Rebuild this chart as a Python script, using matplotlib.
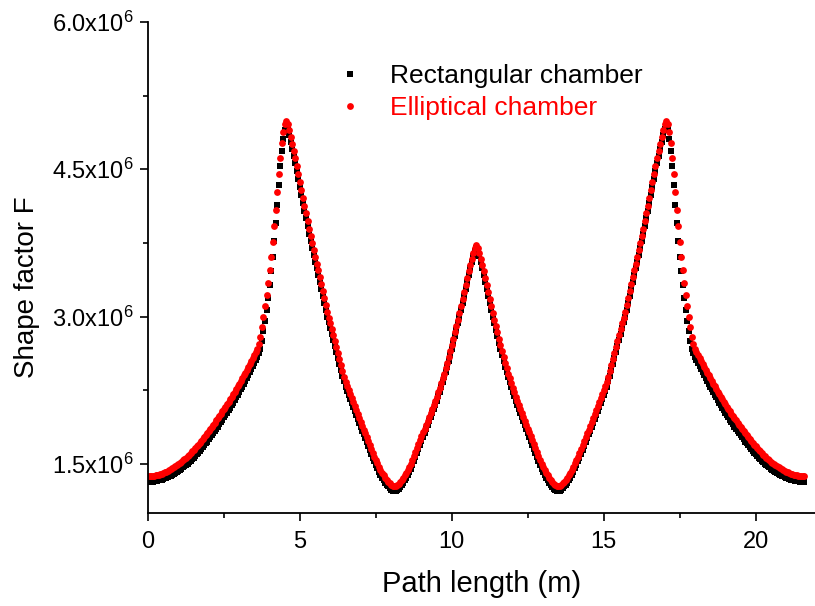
import matplotlib
matplotlib.use('Agg')
import numpy as np
import matplotlib.pyplot as plt
from matplotlib.ticker import MultipleLocator, FuncFormatter

plt.rcParams['font.family'] = ['Liberation Sans', 'DejaVu Sans']
plt.rcParams['mathtext.default'] = 'regular'

# path length along the chamber (m)
path_length = [
    0.00, 0.05, 0.10, 0.15, 0.20, 0.25, 0.30, 0.35, 0.40, 0.45,
    0.50, 0.55, 0.60, 0.65, 0.70, 0.75, 0.80, 0.85, 0.90, 0.95,
    1.00, 1.05, 1.10, 1.15, 1.20, 1.25, 1.30, 1.35, 1.40, 1.45,
    1.50, 1.55, 1.60, 1.65, 1.70, 1.75, 1.80, 1.85, 1.90, 1.95,
    2.00, 2.05, 2.10, 2.15, 2.20, 2.25, 2.30, 2.35, 2.40, 2.45,
    2.50, 2.55, 2.60, 2.65, 2.70, 2.75, 2.80, 2.85, 2.90, 2.95,
    3.00, 3.05, 3.10, 3.15, 3.20, 3.25, 3.30, 3.35, 3.40, 3.45,
    3.50, 3.55, 3.60, 3.65, 3.70, 3.75, 3.80, 3.85, 3.90, 3.95,
    4.00, 4.05, 4.10, 4.15, 4.20, 4.25, 4.30, 4.35, 4.40, 4.45,
    4.50, 4.55, 4.60, 4.65, 4.70, 4.75, 4.80, 4.85, 4.90, 4.95,
    5.00, 5.05, 5.10, 5.15, 5.20, 5.25, 5.30, 5.35, 5.40, 5.45,
    5.50, 5.55, 5.60, 5.65, 5.70, 5.75, 5.80, 5.85, 5.90, 5.95,
    6.00, 6.05, 6.10, 6.15, 6.20, 6.25, 6.30, 6.35, 6.40, 6.45,
    6.50, 6.55, 6.60, 6.65, 6.70, 6.75, 6.80, 6.85, 6.90, 6.95,
    7.00, 7.05, 7.10, 7.15, 7.20, 7.25, 7.30, 7.35, 7.40, 7.45,
    7.50, 7.55, 7.60, 7.65, 7.70, 7.75, 7.80, 7.85, 7.90, 7.95,
    8.00, 8.05, 8.10, 8.15, 8.20, 8.25, 8.30, 8.35, 8.40, 8.45,
    8.50, 8.55, 8.60, 8.65, 8.70, 8.75, 8.80, 8.85, 8.90, 8.95,
    9.00, 9.05, 9.10, 9.15, 9.20, 9.25, 9.30, 9.35, 9.40, 9.45,
    9.50, 9.55, 9.60, 9.65, 9.70, 9.75, 9.80, 9.85, 9.90, 9.95,
    10.00, 10.05, 10.10, 10.15, 10.20, 10.25, 10.30, 10.35, 10.40, 10.45,
    10.50, 10.55, 10.60, 10.65, 10.70, 10.75, 10.80, 10.85, 10.90, 10.95,
    11.00, 11.05, 11.10, 11.15, 11.20, 11.25, 11.30, 11.35, 11.40, 11.45,
    11.50, 11.55, 11.60, 11.65, 11.70, 11.75, 11.80, 11.85, 11.90, 11.95,
    12.00, 12.05, 12.10, 12.15, 12.20, 12.25, 12.30, 12.35, 12.40, 12.45,
    12.50, 12.55, 12.60, 12.65, 12.70, 12.75, 12.80, 12.85, 12.90, 12.95,
    13.00, 13.05, 13.10, 13.15, 13.20, 13.25, 13.30, 13.35, 13.40, 13.45,
    13.50, 13.55, 13.60, 13.65, 13.70, 13.75, 13.80, 13.85, 13.90, 13.95,
    14.00, 14.05, 14.10, 14.15, 14.20, 14.25, 14.30, 14.35, 14.40, 14.45,
    14.50, 14.55, 14.60, 14.65, 14.70, 14.75, 14.80, 14.85, 14.90, 14.95,
    15.00, 15.05, 15.10, 15.15, 15.20, 15.25, 15.30, 15.35, 15.40, 15.45,
    15.50, 15.55, 15.60, 15.65, 15.70, 15.75, 15.80, 15.85, 15.90, 15.95,
    16.00, 16.05, 16.10, 16.15, 16.20, 16.25, 16.30, 16.35, 16.40, 16.45,
    16.50, 16.55, 16.60, 16.65, 16.70, 16.75, 16.80, 16.85, 16.90, 16.95,
    17.00, 17.05, 17.10, 17.15, 17.20, 17.25, 17.30, 17.35, 17.40, 17.45,
    17.50, 17.55, 17.60, 17.65, 17.70, 17.75, 17.80, 17.85, 17.90, 17.95,
    18.00, 18.05, 18.10, 18.15, 18.20, 18.25, 18.30, 18.35, 18.40, 18.45,
    18.50, 18.55, 18.60, 18.65, 18.70, 18.75, 18.80, 18.85, 18.90, 18.95,
    19.00, 19.05, 19.10, 19.15, 19.20, 19.25, 19.30, 19.35, 19.40, 19.45,
    19.50, 19.55, 19.60, 19.65, 19.70, 19.75, 19.80, 19.85, 19.90, 19.95,
    20.00, 20.05, 20.10, 20.15, 20.20, 20.25, 20.30, 20.35, 20.40, 20.45,
    20.50, 20.55, 20.60, 20.65, 20.70, 20.75, 20.80, 20.85, 20.90, 20.95,
    21.00, 21.05, 21.10, 21.15, 21.20, 21.25, 21.30, 21.35, 21.40, 21.45,
    21.50, 21.55, 21.60,
]

# shape factor F, in units of 10^6
ellip_F = [
    1.376, 1.376, 1.377, 1.379, 1.381, 1.384, 1.387, 1.391, 1.396, 1.401,
    1.407, 1.413, 1.420, 1.428, 1.436, 1.445, 1.455, 1.465, 1.476, 1.487,
    1.499, 1.511, 1.524, 1.537, 1.551, 1.565, 1.580, 1.595, 1.611, 1.627,
    1.644, 1.661, 1.679, 1.697, 1.715, 1.734, 1.753, 1.773, 1.793, 1.813,
    1.834, 1.855, 1.876, 1.898, 1.920, 1.942, 1.965, 1.988, 2.011, 2.035,
    2.059, 2.083, 2.108, 2.133, 2.158, 2.184, 2.210, 2.236, 2.263, 2.290,
    2.317, 2.345, 2.373, 2.401, 2.430, 2.459, 2.488, 2.518, 2.548, 2.579,
    2.610, 2.642, 2.675, 2.720, 2.790, 2.890, 3.000, 3.110, 3.220, 3.340,
    3.470, 3.610, 3.760, 3.920, 4.090, 4.270, 4.450, 4.620, 4.770, 4.880,
    4.960, 4.990, 4.960, 4.900, 4.830, 4.760, 4.690, 4.610, 4.530, 4.450,
    4.370, 4.290, 4.210, 4.130, 4.050, 3.970, 3.890, 3.820, 3.750, 3.680,
    3.610, 3.540, 3.470, 3.400, 3.330, 3.260, 3.190, 3.120, 3.050, 2.990,
    2.930, 2.870, 2.810, 2.750, 2.690, 2.630, 2.570, 2.510, 2.450, 2.390,
    2.335, 2.290, 2.250, 2.210, 2.170, 2.130, 2.090, 2.050, 2.010, 1.970,
    1.930, 1.890, 1.850, 1.810, 1.770, 1.730, 1.690, 1.650, 1.610, 1.575,
    1.540, 1.505, 1.470, 1.440, 1.410, 1.385, 1.360, 1.340, 1.320, 1.302,
    1.288, 1.278, 1.274, 1.277, 1.285, 1.298, 1.315, 1.335, 1.358, 1.383,
    1.410, 1.440, 1.470, 1.500, 1.540, 1.580, 1.620, 1.660, 1.700, 1.740,
    1.780, 1.820, 1.860, 1.900, 1.940, 1.980, 2.020, 2.060, 2.100, 2.140,
    2.185, 2.230, 2.275, 2.320, 2.370, 2.420, 2.475, 2.530, 2.590, 2.650,
    2.710, 2.770, 2.840, 2.905, 2.970, 3.040, 3.110, 3.180, 3.250, 3.320,
    3.390, 3.460, 3.530, 3.590, 3.650, 3.700,
    3.730,
    3.700, 3.650, 3.590, 3.530, 3.460, 3.390,
    3.320, 3.250, 3.180, 3.110, 3.040, 2.970, 2.905, 2.840, 2.770, 2.710,
    2.650, 2.590, 2.530, 2.475, 2.420, 2.370, 2.320, 2.275, 2.230, 2.185,
    2.140, 2.100, 2.060, 2.020, 1.980, 1.940, 1.900, 1.860, 1.820, 1.780,
    1.740, 1.700, 1.660, 1.620, 1.580, 1.540, 1.500, 1.470, 1.440, 1.410,
    1.383, 1.358, 1.335, 1.315, 1.298, 1.285, 1.277, 1.274, 1.278, 1.288,
    1.302, 1.320, 1.340, 1.360, 1.385, 1.410, 1.440, 1.470, 1.505, 1.540,
    1.575, 1.610, 1.650, 1.690, 1.730, 1.770, 1.810, 1.850, 1.890, 1.930,
    1.970, 2.010, 2.050, 2.090, 2.130, 2.170, 2.210, 2.250, 2.290, 2.335,
    2.390, 2.450, 2.510, 2.570, 2.630, 2.690, 2.750, 2.810, 2.870, 2.930,
    2.990, 3.050, 3.120, 3.190, 3.260, 3.330, 3.400, 3.470, 3.540, 3.610,
    3.680, 3.750, 3.820, 3.890, 3.970, 4.050, 4.130, 4.210, 4.290, 4.370,
    4.450, 4.530, 4.610, 4.690, 4.760, 4.830, 4.900, 4.960, 4.990, 4.960,
    4.880, 4.770, 4.620, 4.450, 4.270, 4.090, 3.920, 3.760, 3.610, 3.470,
    3.340, 3.220, 3.110, 3.000, 2.890, 2.790, 2.720, 2.675, 2.642, 2.610,
    2.579, 2.548, 2.518, 2.488, 2.459, 2.430, 2.401, 2.373, 2.345, 2.317,
    2.290, 2.263, 2.236, 2.210, 2.184, 2.158, 2.133, 2.108, 2.083, 2.059,
    2.035, 2.011, 1.988, 1.965, 1.942, 1.920, 1.898, 1.876, 1.855, 1.834,
    1.813, 1.793, 1.773, 1.753, 1.734, 1.715, 1.697, 1.679, 1.661, 1.644,
    1.627, 1.611, 1.595, 1.580, 1.565, 1.551, 1.537, 1.524, 1.511, 1.499,
    1.487, 1.476, 1.465, 1.455, 1.445, 1.436, 1.428, 1.420, 1.413, 1.407,
    1.401, 1.396, 1.391, 1.387, 1.384, 1.381, 1.379, 1.377, 1.376, 1.376,
]

rect_F = [
    1.316, 1.316, 1.317, 1.319, 1.321, 1.324, 1.327, 1.331, 1.336, 1.341,
    1.347, 1.352, 1.358, 1.365, 1.372, 1.380, 1.389, 1.398, 1.408, 1.418,
    1.429, 1.440, 1.452, 1.464, 1.477, 1.490, 1.504, 1.518, 1.533, 1.548,
    1.564, 1.580, 1.597, 1.614, 1.631, 1.649, 1.668, 1.688, 1.708, 1.728,
    1.749, 1.770, 1.791, 1.813, 1.835, 1.857, 1.880, 1.903, 1.926, 1.950,
    1.974, 1.998, 2.023, 2.048, 2.073, 2.099, 2.125, 2.151, 2.178, 2.205,
    2.232, 2.260, 2.288, 2.316, 2.345, 2.374, 2.403, 2.433, 2.463, 2.494,
    2.525, 2.557, 2.590, 2.625, 2.670, 2.750, 2.850, 2.960, 3.070, 3.190,
    3.320, 3.460, 3.610, 3.770, 3.950, 4.140, 4.340, 4.530, 4.690, 4.810,
    4.900, 4.940, 4.910, 4.850, 4.780, 4.710, 4.640, 4.560, 4.480, 4.400,
    4.320, 4.240, 4.160, 4.080, 4.000, 3.920, 3.840, 3.770, 3.700, 3.630,
    3.560, 3.490, 3.420, 3.350, 3.280, 3.210, 3.140, 3.070, 3.000, 2.940,
    2.880, 2.820, 2.760, 2.700, 2.640, 2.580, 2.520, 2.460, 2.400, 2.340,
    2.285, 2.240, 2.200, 2.160, 2.120, 2.080, 2.040, 2.000, 1.960, 1.920,
    1.880, 1.840, 1.800, 1.760, 1.720, 1.680, 1.640, 1.600, 1.560, 1.525,
    1.490, 1.455, 1.420, 1.390, 1.360, 1.335, 1.310, 1.290, 1.270, 1.252,
    1.238, 1.228, 1.224, 1.227, 1.235, 1.248, 1.265, 1.285, 1.308, 1.333,
    1.360, 1.390, 1.420, 1.450, 1.490, 1.530, 1.570, 1.610, 1.652, 1.693,
    1.734, 1.774, 1.814, 1.854, 1.894, 1.935, 1.975, 2.015, 2.055, 2.095,
    2.140, 2.187, 2.233, 2.279, 2.330, 2.380, 2.435, 2.490, 2.550, 2.610,
    2.670, 2.730, 2.800, 2.865, 2.930, 3.000, 3.070, 3.140, 3.210, 3.280,
    3.350, 3.422, 3.494, 3.556, 3.617, 3.668,
    3.700,
    3.668, 3.617, 3.556, 3.494, 3.422, 3.350,
    3.280, 3.210, 3.140, 3.070, 3.000, 2.930, 2.865, 2.800, 2.730, 2.670,
    2.610, 2.550, 2.490, 2.435, 2.380, 2.330, 2.279, 2.233, 2.187, 2.140,
    2.095, 2.055, 2.015, 1.975, 1.935, 1.894, 1.854, 1.814, 1.774, 1.734,
    1.693, 1.652, 1.610, 1.570, 1.530, 1.490, 1.450, 1.420, 1.390, 1.360,
    1.333, 1.308, 1.285, 1.265, 1.248, 1.235, 1.227, 1.224, 1.228, 1.238,
    1.252, 1.270, 1.290, 1.310, 1.335, 1.360, 1.390, 1.420, 1.455, 1.490,
    1.525, 1.560, 1.600, 1.640, 1.680, 1.720, 1.760, 1.800, 1.840, 1.880,
    1.920, 1.960, 2.000, 2.040, 2.080, 2.120, 2.160, 2.200, 2.240, 2.285,
    2.340, 2.400, 2.460, 2.520, 2.580, 2.640, 2.700, 2.760, 2.820, 2.880,
    2.940, 3.000, 3.070, 3.140, 3.210, 3.280, 3.350, 3.420, 3.490, 3.560,
    3.630, 3.700, 3.770, 3.840, 3.920, 4.000, 4.080, 4.160, 4.240, 4.320,
    4.400, 4.480, 4.560, 4.640, 4.710, 4.780, 4.850, 4.910, 4.940, 4.900,
    4.810, 4.690, 4.530, 4.340, 4.140, 3.950, 3.770, 3.610, 3.460, 3.320,
    3.190, 3.070, 2.960, 2.850, 2.750, 2.670, 2.625, 2.590, 2.557, 2.525,
    2.494, 2.463, 2.433, 2.403, 2.374, 2.345, 2.316, 2.288, 2.260, 2.232,
    2.205, 2.178, 2.151, 2.125, 2.099, 2.073, 2.048, 2.023, 1.998, 1.974,
    1.950, 1.926, 1.903, 1.880, 1.857, 1.835, 1.813, 1.791, 1.770, 1.749,
    1.728, 1.708, 1.688, 1.668, 1.649, 1.631, 1.614, 1.597, 1.580, 1.564,
    1.548, 1.533, 1.518, 1.504, 1.490, 1.477, 1.464, 1.452, 1.440, 1.429,
    1.418, 1.408, 1.398, 1.389, 1.380, 1.372, 1.365, 1.358, 1.352, 1.347,
    1.341, 1.336, 1.331, 1.327, 1.324, 1.321, 1.319, 1.317, 1.316, 1.316,
]

fig = plt.figure(figsize=(8.15, 6.06), dpi=100)
ax = fig.add_axes([148/815, 1 - 513/606, 667/815, 491/606])

ax.plot(path_length, rect_F, ls='none', marker='s', ms=4.2, mew=0,
        color='black', label='Rectangular chamber')
ax.plot(path_length, ellip_F, ls='none', marker='o', ms=4.9, mew=0,
        color='red', label='Elliptical chamber')

ax.set_xlim(0, 21.95)
ax.set_ylim(1.0, 6.0)

ax.xaxis.set_major_locator(MultipleLocator(5))
ax.xaxis.set_minor_locator(MultipleLocator(2.5))
ax.yaxis.set_minor_locator(MultipleLocator(0.75))
ax.set_yticks([1.5, 3.0, 4.5, 6.0])
ax.yaxis.set_major_formatter(FuncFormatter(lambda v, p: '%.1fx10$^6$' % v))

for s in ['top', 'right']:
    ax.spines[s].set_visible(False)
for s in ['left', 'bottom']:
    ax.spines[s].set_linewidth(1.3)

ax.tick_params(which='major', direction='out', length=6, width=1.2,
               labelsize=17)
ax.tick_params(axis='x', which='major', pad=7)
ax.tick_params(axis='y', which='major', pad=4)
ax.tick_params(which='minor', direction='out', length=3.5, width=1.2)

ax.set_xlabel('Path length (m)', fontsize=21, labelpad=12)
ax.set_ylabel('Shape factor F', fontsize=20)
ax.yaxis.set_label_coords(-0.162, 0.459)

ax.legend(loc='upper left', bbox_to_anchor=(337/815, 1 - 64/606),
          bbox_transform=fig.transFigure, frameon=False, fontsize=19,
          handlelength=1.0, handletextpad=1.0, borderpad=0,
          borderaxespad=0, labelspacing=0.3, labelcolor=['black', 'red'])

fig.savefig('out.png', dpi=100)
